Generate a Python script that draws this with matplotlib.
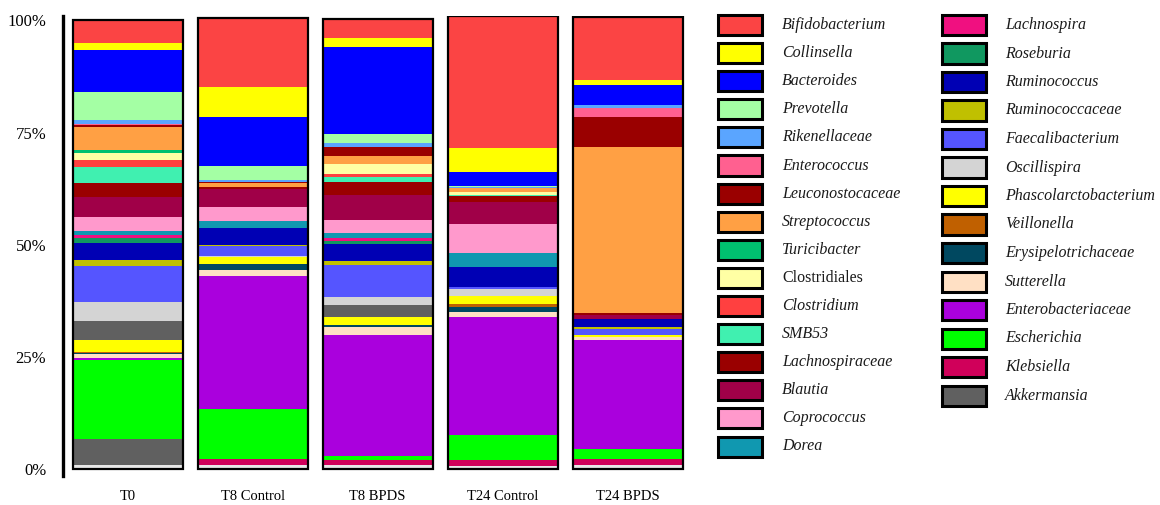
import matplotlib
matplotlib.use("Agg")
import matplotlib.pyplot as plt
from matplotlib.patches import Rectangle
import numpy as np

plt.rcParams['font.family'] = ['Liberation Serif', 'DejaVu Serif']

samples = ['T0', 'T8 Control', 'T8 BPDS', 'T24 Control', 'T24 BPDS']

# stacking order, top of the bar first
taxa = ['Bifidobacterium', 'Collinsella', 'Bacteroides', 'Prevotella', 'Rikenellaceae',
        'Enterococcus', 'Leuconostocaceae', 'Streptococcus', 'Turicibacter', 'Clostridiales',
        'Clostridium', 'SMB53', 'Lachnospiraceae', 'Blautia', 'Coprococcus', 'Dorea',
        'Lachnospira', 'Roseburia', 'Ruminococcus', 'Ruminococcaceae', 'Faecalibacterium',
        'Oscillispira', '_grey', 'Phascolarctobacterium', 'Veillonella', 'Erysipelotrichaceae',
        'Sutterella', 'Enterobacteriaceae', 'Escherichia', 'Klebsiella', 'Akkermansia', '_other']

colors = ['#fb4444', '#ffff00', '#0000ff', '#a4ffa4', '#5aa5ff',
          '#ff6090', '#9a0000', '#ffa044', '#00c070', '#ffffa4',
          '#ff4040', '#40f0b0', '#9a0000', '#a00048', '#ff99cc', '#1098b0',
          '#f01080', '#109860', '#0000b4', '#c0c000', '#5555ff',
          '#d4d4d4', '#606060', '#ffff00', '#c06000', '#004860',
          '#ffe0c4', '#aa00dd', '#00ff00', '#d0005a', '#606060', '#e8e8e8']

t0 = [5.0, 1.6, 9.3, 6.2, 1.0, 0.1, 0.5, 5.2, 0.7, 1.4,
      1.7, 3.5, 3.1, 4.4, 3.2, 0.9, 0.6, 1.2, 3.7, 1.5, 8.0,
      4.1, 4.2, 2.7, 0.2, 0.3, 0.9, 0.4, 17.7, 0.0, 5.8, 0.9]
t8_control = [15.4, 6.7, 10.9, 3.2, 0.4, 0.0, 0.3, 0.7, 0.0, 0.0,
              0.0, 0.0, 0.5, 4.0, 3.1, 1.6, 0.0, 0.0, 3.8, 0.2, 2.2,
              0.3, 0.0, 1.5, 0.0, 1.3, 1.5, 29.6, 11.2, 1.3, 0.0, 0.9]
t8_bpds = [4.3, 2.1, 19.2, 2.2, 0.7, 0.0, 2.1, 1.7, 0.0, 2.4,
           0.6, 1.0, 3.0, 5.5, 3.0, 1.0, 0.7, 0.7, 3.8, 0.9, 7.2,
           1.7, 2.7, 1.8, 0.0, 0.4, 1.7, 27.0, 0.9, 1.2, 0.0, 0.9]
t24_control = [29.4, 5.2, 3.1, 0.3, 0.3, 0.0, 0.0, 0.8, 0.0, 0.6,
               0.0, 0.3, 1.3, 5.0, 6.3, 3.3, 0.0, 0.0, 4.4, 0.0, 0.5,
               1.5, 0.0, 1.7, 0.7, 1.1, 1.1, 26.4, 5.6, 1.3, 0.0, 0.7]
t24_bpds = [14.0, 1.1, 4.4, 0.0, 0.6, 2.2, 6.5, 37.0, 0.0, 0.0,
            0.0, 0.0, 0.5, 1.0, 0.0, 0.0, 0.0, 0.0, 1.6, 0.5, 1.4,
            0.0, 0.0, 0.4, 0.0, 0.0, 0.7, 24.2, 2.4, 1.3, 0.0, 0.9]

ytick_vals = [0, 25, 50, 75, 100]
ytick_labels = ['0%', '25%', '50%', '75%', '100%']

W, H = 1160, 505
fig = plt.figure(figsize=(W / 100, H / 100), dpi=100)
ax = fig.add_axes([63 / W, 1 - 476 / H, 627 / W, 460 / H])

data = np.array([t0, t8_control, t8_bpds, t24_control, t24_bpds]).T
x = np.arange(len(samples))
width = 0.88

# bottoms: everything below each taxon (the list runs top to bottom)
bottoms = np.cumsum(data[::-1], axis=0)[::-1] - data
for i in range(len(taxa)):
    ax.bar(x, data[i], width, bottom=bottoms[i], color=colors[i], linewidth=0)

totals = data.sum(axis=0)
ax.bar(x, totals, width, fill=False, edgecolor='black', linewidth=1.6)

ax.set_xlim(-0.52, 4.5)
ax.set_ylim(-1.5, 101.0)
ax.set_xticks(x)
ax.set_xticklabels(samples, fontsize=10.5)
ax.set_yticks(ytick_vals)
ax.set_yticklabels(ytick_labels, fontsize=12)
ax.tick_params(axis='both', length=0)
ax.tick_params(axis='x', pad=10)
ax.tick_params(axis='y', pad=12)
for side in ['top', 'right', 'bottom']:
    ax.spines[side].set_visible(False)
ax.spines['left'].set_linewidth(2.4)

# legend drawn by hand in two columns
legend_taxa = [t for t in taxa if not t.startswith('_')]
legend_colors = [c for t, c in zip(taxa, colors) if not t.startswith('_')]
col_rows = 16
for k, (name, col) in enumerate(zip(legend_taxa, legend_colors)):
    c, r = divmod(k, col_rows)
    sx = 718 if c == 0 else 942
    tx = 782 if c == 0 else 1005
    cy = 25 + r * (28.1 if c == 0 else 28.5)
    fig.add_artist(Rectangle((sx / W, 1 - (cy + 10) / H), 44 / W, 20 / H,
                             facecolor=col, edgecolor='black', linewidth=2.2,
                             transform=fig.transFigure))
    style = 'normal' if name == 'Clostridiales' else 'italic'
    fig.text(tx / W, 1 - cy / H, name, fontsize=11.5, style=style,
             va='center', ha='left', color='#1a1a1a')

fig.savefig('out.png', dpi=100)
